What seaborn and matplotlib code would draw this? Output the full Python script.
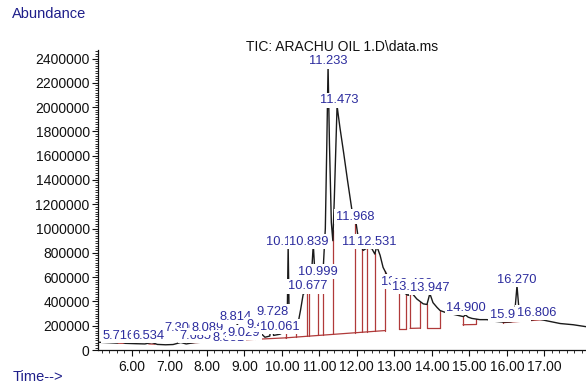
import numpy as np
import pandas as pd
import matplotlib
matplotlib.use("Agg")
import matplotlib.pyplot as plt
from matplotlib.ticker import MultipleLocator, FuncFormatter
import seaborn as sns

# ---------------- data ----------------
times = [5.10, 5.40, 5.60, 5.716, 5.82, 6.10, 6.35, 6.534, 6.68, 6.90, 7.10, 7.306, 7.45,
         7.685, 7.90, 8.089, 8.25, 8.351, 8.50, 8.70, 8.78, 8.814, 8.85, 9.029, 9.20, 9.402,
         9.55, 9.68, 9.728, 9.78, 9.95, 10.061, 10.14, 10.169, 10.20, 10.30, 10.38, 10.43,
         10.50, 10.57, 10.677, 10.73, 10.78, 10.839, 10.88, 10.93, 10.999, 11.05, 11.10,
         11.16, 11.20, 11.233, 11.27, 11.32, 11.36, 11.40, 11.473, 11.55, 11.65, 11.75,
         11.87, 11.93, 11.968, 12.02, 12.08, 12.17, 12.27, 12.40, 12.48, 12.531, 12.62,
         12.70, 12.80, 12.95, 13.05, 13.15, 13.29, 13.37, 13.45, 13.60, 13.77, 13.87,
         13.947, 14.03, 14.14, 14.22, 14.40, 14.60, 14.84, 14.90, 14.97, 15.07, 15.28,
         15.47, 15.69, 15.90, 16.10, 16.20, 16.23, 16.27, 16.31, 16.36, 16.55, 16.806,
         17.07, 17.42, 17.77, 18.11]
abundance = [64000, 60000, 57000, 72000, 55000, 52000, 50000, 62000, 46000, 43000, 45000,
             62000, 50000, 62000, 64000, 80000, 70000, 82000, 76000, 85000, 95000, 230000,
             95000, 110000, 98000, 150000, 105000, 115000, 265000, 120000, 130000, 150000,
             150000, 860000, 170000, 180000, 185000, 215000, 330000, 460000, 480000, 470000,
             560000, 870000, 640000, 580000, 600000, 600000, 650000, 1000000, 1700000,
             2340000, 1700000, 1050000, 900000, 1250000, 2010000, 1830000, 1620000, 1400000,
             1150000, 1060000, 1070000, 960000, 870000, 820000, 840000, 835000, 790000,
             855000, 780000, 680000, 620000, 600000, 580000, 510000, 465000, 450000, 475000,
             420000, 380000, 375000, 465000, 390000, 350000, 325000, 305000, 292000, 275000,
             288000, 270000, 260000, 250000, 250000, 236000, 230000, 232000, 240000, 380000,
             530000, 380000, 245000, 240000, 258000, 240000, 218000, 208000, 192000]

# peak labels: text, x (min), y (abundance) of label centre
label_texts = ["5.716", "6.534", "7.306", "7.685", "8.089", "8.351", "8.814", "9.029",
               "9.402", "9.728", "10.061", "10.169", "10.839", "10.677", "10.999", "11.233",
               "11.473", "11.968", "11.993", "12.531", "13.075", "13.438", "13.193", "13.947",
               "14.900", "15.941", "16.270", "16.806"]
label_x = [5.66, 6.45, 7.29, 7.69, 8.03, 8.57, 8.78, 8.99, 9.50, 9.74, 9.95, 10.11, 10.73,
           10.68, 10.97, 11.24, 11.53, 11.95, 12.12, 12.52, 13.18, 13.50, 13.47, 13.95,
           14.91, 16.08, 16.27, 16.79]
label_y = [118000, 118000, 184000, 118000, 184000, 101000, 275000, 143000, 208000, 316000,
           192000, 893000, 893000, 523000, 646000, 2378000, 2055000, 1099000, 893000, 893000,
           563000, 547000, 522000, 514000, 349000, 291000, 580000, 307000]

# integration baselines (start time, start value, end time, end value)
base_t0 = [5.62, 6.45, 7.55, 8.90, 10.10, 13.13, 13.42, 13.87, 14.83, 15.90]
base_v0 = [56000, 50000, 58000, 82000, 100000, 175000, 178000, 183000, 208000, 225000]
base_t1 = [5.80, 6.62, 8.90, 10.10, 12.75, 13.31, 13.69, 14.22, 15.18, 16.97]
base_v1 = [55000, 48000, 82000, 100000, 160000, 175000, 180000, 183000, 210000, 250000]
drop_times = [9.29, 10.11, 10.38, 10.67, 10.73, 10.97, 11.10, 11.37, 11.95, 12.14, 12.27,
              12.49, 12.75, 13.13, 13.31, 13.42, 13.69, 13.87, 14.22, 14.83, 15.18, 15.90,
              16.97]

x_ticks = [6, 7, 8, 9, 10, 11, 12, 13, 14, 15, 16, 17]
y_ticks = list(range(0, 2400001, 200000))

# ---------------- styling ----------------
sns.set_theme(style="ticks")
plt.rcParams["font.family"] = ["Liberation Sans", "DejaVu Sans"]

BLUE = "#2c2c9e"
NAVY = "#1e1e8a"
RED = "#b03a3a"

fig = plt.figure(figsize=(5.86, 3.88), dpi=100)
ax = fig.add_axes([98 / 586, 38 / 388, 488 / 586, 300 / 388])

df = pd.DataFrame({"time": times, "abundance": abundance})
sns.lineplot(data=df, x="time", y="abundance", sort=False, estimator=None,
             color="#1a1a1a", linewidth=1.0, ax=ax, zorder=3)

# integration baselines and drop lines
for a, va, b, vb in zip(base_t0, base_v0, base_t1, base_v1):
    ax.plot([a, b], [va, vb], color=RED, linewidth=0.9, zorder=2)
for t in drop_times:
    for a, va, b, vb in zip(base_t0, base_v0, base_t1, base_v1):
        if a - 1e-6 <= t <= b + 1e-6:
            bv = va + (vb - va) * (t - a) / (b - a)
            cv = float(np.interp(t, times, abundance))
            ax.plot([t, t], [bv, cv], color=RED, linewidth=0.9, zorder=2)
            break

# peak labels (white boxes, later labels cover earlier ones)
for i, (txt, lx, ly) in enumerate(zip(label_texts, label_x, label_y)):
    ax.text(lx, ly, txt, ha="center", va="center", color=BLUE, fontsize=9.3,
            zorder=10 + i,
            bbox=dict(boxstyle="square,pad=0.12", facecolor="white", edgecolor="none"))

ax.set_xlim(5.099, 18.11)
ax.set_ylim(0, 2470000)
ax.set_xticks(x_ticks)
ax.xaxis.set_major_formatter(FuncFormatter(lambda v, p: f"{v:.2f}"))
ax.xaxis.set_minor_locator(MultipleLocator(0.2))
ax.set_yticks(y_ticks)
ax.yaxis.set_major_formatter(FuncFormatter(lambda v, p: f"{int(round(v))}"))
ax.yaxis.set_minor_locator(MultipleLocator(20000))
ax.set_xlabel("")
ax.set_ylabel("")
ax.tick_params(axis="both", which="major", direction="out", length=4, width=0.8,
               colors="#111111", labelsize=10, pad=2)
ax.tick_params(axis="both", which="minor", direction="out", length=2.5, width=0.6,
               colors="#111111")
ax.tick_params(axis="x", which="major", pad=3)
for s in ["top", "right"]:
    ax.spines[s].set_visible(False)
for s in ["left", "bottom"]:
    ax.spines[s].set_linewidth(0.9)
    ax.spines[s].set_color("#111111")

fig.text(342 / 586, 1 - 47 / 388, "TIC: ARACHU OIL 1.D\\data.ms", ha="center",
         va="center", fontsize=10, color="#111111")
fig.text(12 / 586, 1 - 14 / 388, "Abundance", ha="left", va="center", fontsize=10.5,
         color=NAVY)
fig.text(13 / 586, 1 - 377 / 388, "Time-->", ha="left", va="center", fontsize=10.5,
         color=NAVY)

fig.savefig("out.png", dpi=100)
